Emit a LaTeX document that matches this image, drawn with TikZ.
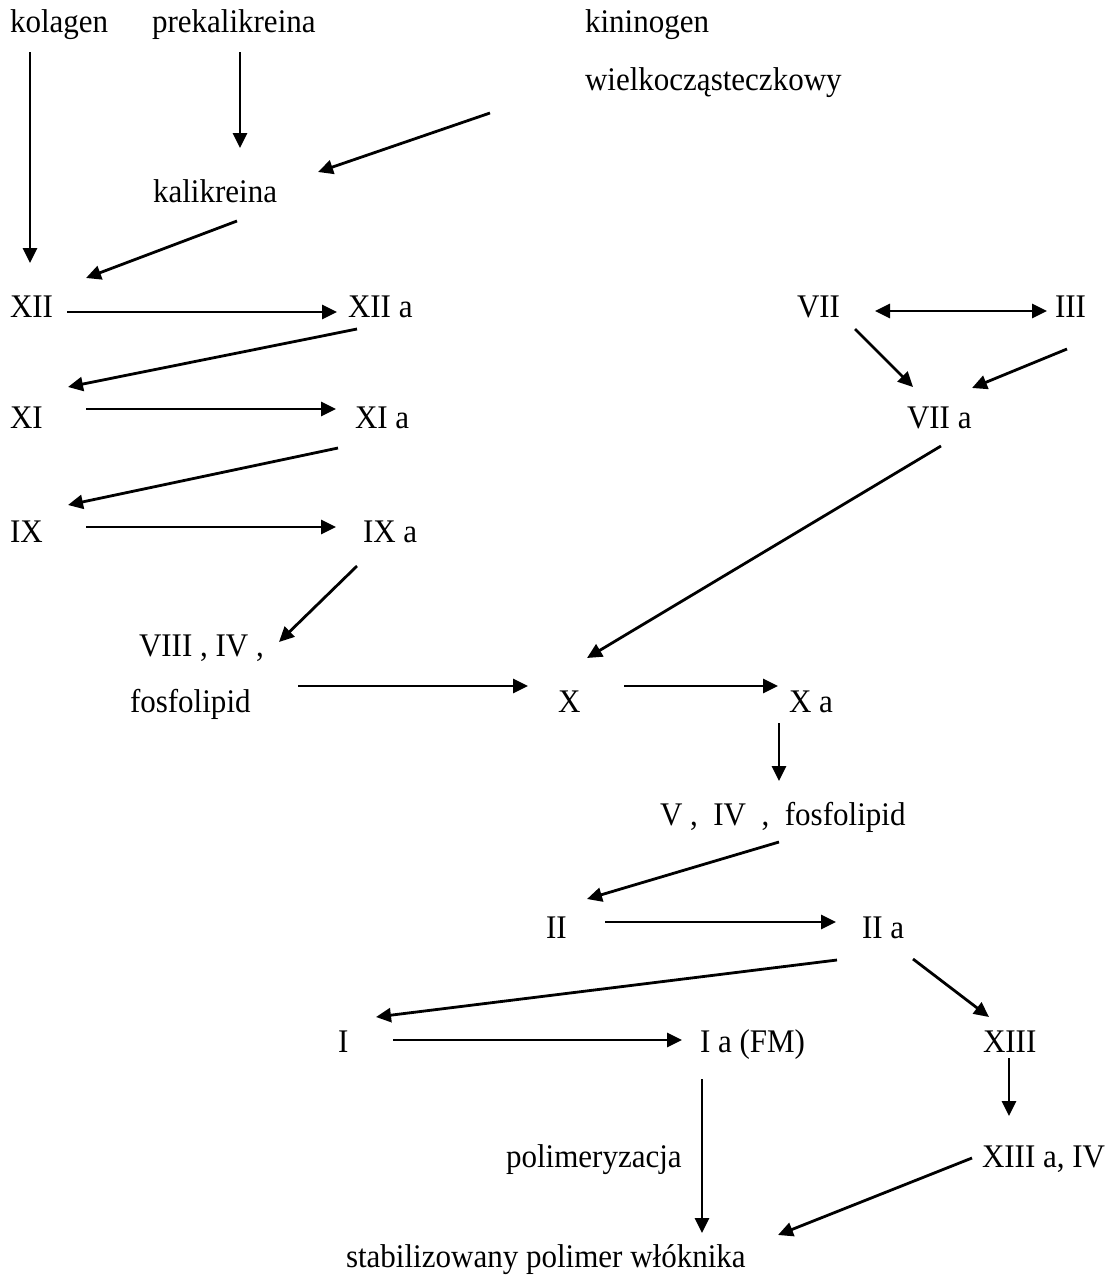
\documentclass[tikz,border=0pt]{standalone}
\usepackage{fontspec}
\setmainfont[FakeStretch=0.94]{Liberation Serif}
\usetikzlibrary{arrows.meta}
\begin{document}
\begin{tikzpicture}[x=1pt,y=-1pt,
  lbl/.style={anchor=base west,inner sep=0pt,outer sep=0pt,font=\fontsize{33}{39}\selectfont},
  arr/.style={line width=2.8pt,-{Triangle[length=15pt,width=14pt]}},
  darr/.style={line width=2.8pt,{Triangle[length=15pt,width=14pt]}-{Triangle[length=15pt,width=14pt]}}]
\useasboundingbox[fill=white] (0,0) rectangle (1109,1288);
% labels
\node[lbl] (kol) at (10,32) {kolagen};
\node[lbl] (prek) at (152,32) {prekalikreina};
\node[lbl] (kin) at (585,32) {kininogen};
\node[lbl] (wiel) at (585,90) {wielkocząsteczkowy};
\node[lbl] (kal) at (153,202) {kalikreina};
\node[lbl] (xii) at (10,317) {XII};
\node[lbl] (xiia) at (348,317) {XII a};
\node[lbl] (vii) at (797,317) {VII};
\node[lbl] (iii) at (1055,317) {III};
\node[lbl] (xi) at (10,428) {XI};
\node[lbl] (xia) at (355,428) {XI a};
\node[lbl] (viia) at (907,428) {VII a};
\node[lbl] (ix) at (10,542) {IX};
\node[lbl] (ixa) at (363,542) {IX a};
\node[lbl] (viii) at (139,656) {VIII , IV ,};
\node[lbl] (fos) at (130,712) {fosfolipid};
\node[lbl] (x) at (558,712) {X};
\node[lbl] (xa) at (789,712) {X a};
\node[lbl] (v) at (660,825) {V~,~~IV~~,~~fosfolipid};
\node[lbl] (ii) at (546,938) {II};
\node[lbl] (iia) at (862,938) {II a};
\node[lbl] (i) at (338,1052) {I};
\node[lbl] (ia) at (700,1052) {I a (FM)};
\node[lbl] (xiii) at (983,1052) {XIII};
\node[lbl] (pol) at (506,1167) {polimeryzacja};
\node[lbl] (xiiia) at (982,1167) {XIII a, IV};
\node[lbl] (stab) at (346,1267) {stabilizowany polimer włóknika};
% connector end points
\coordinate (kol-o) at (30,52);    \coordinate (xii-in1) at (30,263);
\coordinate (prek-o) at (240,52);  \coordinate (kal-in1) at (240,148);
\coordinate (wiel-o) at (490,113); \coordinate (kal-in2) at (318,172);
\coordinate (kal-o) at (237,221);  \coordinate (xii-in2) at (86,278);
\coordinate (xii-o) at (67,312);   \coordinate (xiia-in) at (337,312);
\coordinate (vii-o1) at (875,311); \coordinate (iii-in) at (1047,311);
\coordinate (vii-o2) at (855,329); \coordinate (viia-in1) at (913,387);
\coordinate (iii-o) at (1067,349); \coordinate (viia-in2) at (972,388);
\coordinate (xiia-o) at (357,329); \coordinate (xi-in) at (68,387);
\coordinate (xi-o) at (86,409);    \coordinate (xia-in) at (336,409);
\coordinate (xia-o) at (338,448);  \coordinate (ix-in) at (68,505);
\coordinate (ix-o) at (86,527);    \coordinate (ixa-in) at (336,527);
\coordinate (ixa-o) at (357,566);  \coordinate (viii-in) at (279,642);
\coordinate (viia-o) at (941,446); \coordinate (x-in1) at (587,658);
\coordinate (fos-o) at (298,686);  \coordinate (x-in2) at (528,686);
\coordinate (x-o) at (624,686);    \coordinate (xa-in) at (778,686);
\coordinate (xa-o) at (779,723);   \coordinate (v-in) at (779,781);
\coordinate (v-o) at (779,842);    \coordinate (ii-in) at (587,899);
\coordinate (ii-o) at (605,922);   \coordinate (iia-in) at (836,922);
\coordinate (iia-o1) at (837,960); \coordinate (i-in) at (376,1017);
\coordinate (iia-o2) at (913,959); \coordinate (xiii-in) at (989,1017);
\coordinate (i-o) at (393,1040);   \coordinate (ia-in) at (682,1040);
\coordinate (ia-o) at (702,1079);  \coordinate (stab-in1) at (702,1233);
\coordinate (xiii-o) at (1009,1058); \coordinate (xiiia-in) at (1009,1116);
\coordinate (xiiia-o) at (972,1158); \coordinate (stab-in2) at (778,1235);
% connectors
\draw[arr] (kol-o) -- (xii-in1);
\draw[arr] (prek-o) -- (kal-in1);
\draw[arr] (wiel-o) -- (kal-in2);
\draw[arr] (kal-o) -- (xii-in2);
\draw[arr] (xii-o) -- (xiia-in);
\draw[darr] (vii-o1) -- (iii-in);
\draw[arr] (vii-o2) -- (viia-in1);
\draw[arr] (iii-o) -- (viia-in2);
\draw[arr] (xiia-o) -- (xi-in);
\draw[arr] (xi-o) -- (xia-in);
\draw[arr] (xia-o) -- (ix-in);
\draw[arr] (ix-o) -- (ixa-in);
\draw[arr] (ixa-o) -- (viii-in);
\draw[arr] (viia-o) -- (x-in1);
\draw[arr] (fos-o) -- (x-in2);
\draw[arr] (x-o) -- (xa-in);
\draw[arr] (xa-o) -- (v-in);
\draw[arr] (v-o) -- (ii-in);
\draw[arr] (ii-o) -- (iia-in);
\draw[arr] (iia-o1) -- (i-in);
\draw[arr] (iia-o2) -- (xiii-in);
\draw[arr] (i-o) -- (ia-in);
\draw[arr] (ia-o) -- (stab-in1);
\draw[arr] (xiii-o) -- (xiiia-in);
\draw[arr] (xiiia-o) -- (stab-in2);
\end{tikzpicture}
\end{document}
